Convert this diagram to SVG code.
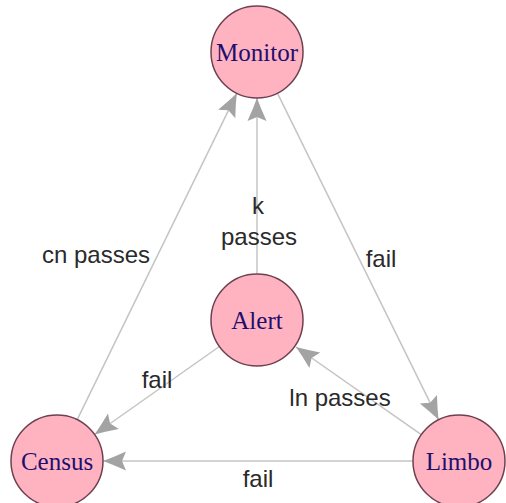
<svg xmlns="http://www.w3.org/2000/svg" width="506" height="503" viewBox="0 0 506 503">
  <style>
    .edge { stroke: #c4c4c4; stroke-width: 1.5; fill: none; marker-end: url(#arrow); }
    .node circle { fill: #ffb3c1; stroke: #6e4050; stroke-width: 1.5; }
    .node text { font-family: "Liberation Serif", "Times New Roman", serif; font-size: 25px; fill: #1e0f6e; text-anchor: middle; dominant-baseline: central; }
    .label { font-family: "Liberation Sans", Arial, sans-serif; font-size: 24px; fill: #2a2a2a; text-anchor: middle; dominant-baseline: central; }
  </style>
  <defs>
    <marker id="arrow" markerUnits="userSpaceOnUse" markerWidth="26" markerHeight="22" viewBox="-24 -11 26 22" refX="0" refY="0" orient="auto">
      <path d="M0,0 Q-11,-4 -23,-9.5 L-19,0 L-23,9.5 Q-11,4 0,0 Z" fill="#a3a3a3"/>
    </marker>
  </defs>
  <rect width="506" height="503" fill="#ffffff"/>

  <g id="connectors">
    <line class="edge" x1="77.2" y1="419.7" x2="236.8" y2="93.3"/>
    <line class="edge" x1="257" y1="274" x2="257" y2="98"/>
    <line class="edge" x1="277.4" y1="93.2" x2="438.6" y2="419.8"/>
    <line class="edge" x1="219.4" y1="346.5" x2="94.6" y2="434.5"/>
    <line class="edge" x1="421.3" y1="434.7" x2="296" y2="347"/>
    <line class="edge" x1="413" y1="461" x2="103" y2="461"/>
    <text class="label" x="96" y="254">cn passes</text>
    <text class="label" x="258" y="205">k</text>
    <text class="label" x="259" y="236">passes</text>
    <text class="label" x="381" y="258">fail</text>
    <text class="label" x="157" y="379">fail</text>
    <text class="label" x="340" y="397">ln passes</text>
    <text class="label" x="258" y="478">fail</text>
  </g>

  <g id="monitor" class="node">
    <circle cx="257" cy="52" r="46"/>
    <text x="257" y="52">Monitor</text>
  </g>
  <g id="alert" class="node">
    <circle cx="257" cy="320" r="46"/>
    <text x="257" y="320">Alert</text>
  </g>
  <g id="census" class="node">
    <circle cx="57" cy="461" r="46"/>
    <text x="57" y="461">Census</text>
  </g>
  <g id="limbo" class="node">
    <circle cx="459" cy="461" r="46"/>
    <text x="459" y="461">Limbo</text>
  </g>
</svg>
